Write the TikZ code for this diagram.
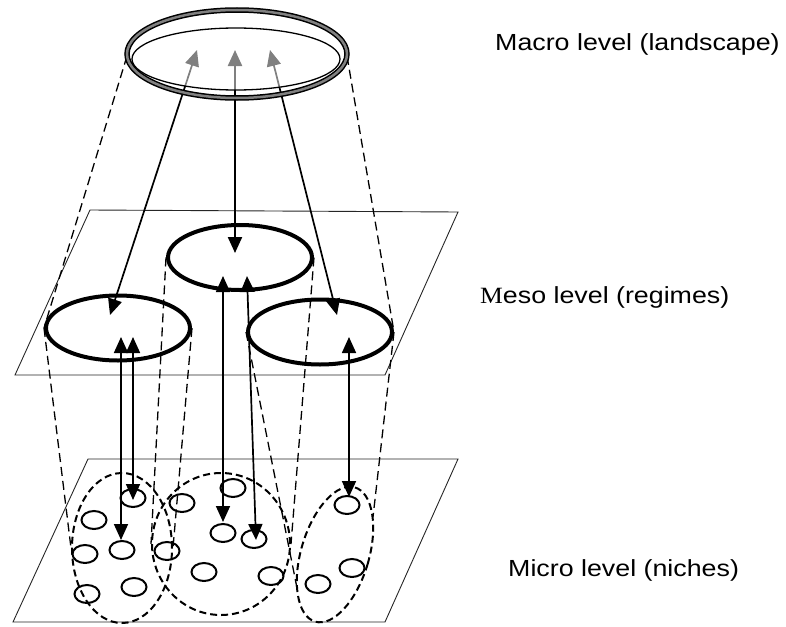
\documentclass[tikz,border=0pt]{standalone}
\usepackage{fontspec}
\newfontfamily\lblfont{Liberation Sans}[FakeStretch=1.15]
\newfontfamily\lblserif{Liberation Serif}[FakeStretch=1.1]
\usetikzlibrary{arrows.meta,shapes.geometric}
\begin{document}
\begin{tikzpicture}[x=1pt,y=-1pt,
 plane/.style={line width=0.9pt, draw=black!85},
 mesoell/.style={ellipse, draw, line width=4pt, minimum width=144pt, minimum height=65pt, inner sep=0pt},
 microell/.style={ellipse, draw, line width=2pt, minimum width=25pt, minimum height=18pt, inner sep=0pt},
 nicheell/.style={ellipse, draw, line width=2pt, dash pattern=on 7pt off 4pt, inner sep=0pt},
 cone/.style={line width=1.3pt, dash pattern=on 9pt off 5pt},
 tipb/.tip={Triangle[length=16pt,width=14pt]},
 link/.style={line width=1.7pt, tipb-tipb},
 lbl/.style={anchor=base west, inner sep=0pt, font=\lblfont\fontsize{23.3pt}{28pt}\selectfont}
]
\useasboundingbox (0,0) rectangle (786,626);
% planes
\draw[plane] (90,210) -- (458,212) -- (385,375) -- (15,375) -- cycle;
\draw[plane] (88,459) -- (458,459) -- (385,622) -- (13,622) -- cycle;
% meso ellipses
\node[mesoell] (mC) at (240,257.5) {};
\node[mesoell] (mL) at (118,328) {};
\node[mesoell] (mR) at (320,332) {};
% micro niche groups
\node[nicheell, minimum width=100pt, minimum height=150pt] (nL) at (122,548) {};
\node[nicheell, minimum width=138pt, minimum height=142pt] (nM) at (221,544) {};
\node[nicheell, minimum width=68pt, minimum height=140pt, rotate=-16.5] (nR) at (335,554.5) {};
\coordinate (nRl) at (297,588);
\coordinate (nRr) at (373,517);
% small niches
\node[microell] (s1) at (133,498) {};
\node[microell] (s2) at (94,520) {};
\node[microell] (s3) at (85,554) {};
\node[microell] (s4) at (122,550) {};
\node[microell] (s5) at (87,594) {};
\node[microell] (s6) at (134,587) {};
\node[microell] (s7) at (182,503) {};
\node[microell] (s8) at (233,488) {};
\node[microell] (s9) at (167,551) {};
\node[microell] (s10) at (223,533) {};
\node[microell] (s11) at (254,539) {};
\node[microell] (s12) at (204,572) {};
\node[microell] (s13) at (271,576) {};
\node[microell] (s14) at (347,505) {};
\node[microell] (s15) at (352,568) {};
\node[microell] (s16) at (318,584) {};
% macro
\coordinate (mcW) at (127,56);
\coordinate (mcE) at (347,56);
% dashed cones
\draw[cone] (mcW) -- (mL.west);
\draw[cone] (mcE) -- (mR.east);
\draw[cone] (mL.west) -- (nL.west);
\draw[cone] (mL.east) -- (nL.east);
\draw[cone] (mC.west) -- (nM.west);
\draw[cone] (mC.east) -- (nM.east);
\draw[cone] (mR.west) -- (nRl);
\draw[cone] (mR.east) -- (nRr);
% arrow end points
\coordinate (g1) at (197,50);
\coordinate (g2) at (235,50);
\coordinate (g3) at (270,50);
\coordinate (r1) at (110,315);
\coordinate (r2) at (235,253);
\coordinate (r3) at (337,315);
\coordinate (u1) at (121,337);
\coordinate (d1) at (121,540);
\coordinate (u2) at (133,337);
\coordinate (d2) at (133,500);
\coordinate (u3) at (223,276);
\coordinate (d3) at (223,522);
\coordinate (u4) at (247,276);
\coordinate (d4) at (256,540);
\coordinate (u5) at (349,337);
\coordinate (d5) at (349,497);
\draw[link] (g1) -- (r1);
\draw[link, line width=2.2pt] (g2) -- (r2);
\draw[link] (g3) -- (r3);
\draw[link] (u1) -- (d1);
\draw[link] (u2) -- (d2);
\draw[link] (u3) -- (d3);
\draw[link] (u4) -- (d4);
\draw[link] (u5) -- (d5);
% macro disc on top
\node[ellipse, draw, line width=5.5pt, minimum width=220pt, minimum height=88pt, inner sep=0pt] (rim) at (237,54) {};
\node[ellipse, draw=gray, line width=2.5pt, minimum width=220pt, minimum height=88pt, inner sep=0pt] (rim2) at (237,54) {};
\node[ellipse, draw, line width=1.3pt, fill=white, fill opacity=0.5, minimum width=208pt, minimum height=62pt, inner sep=0pt] (macro) at (236,59) {};
% labels
\node[lbl] (tMacro) at (495,51) {Macro level (landscape)};
\node[lbl] (tMeso) at (480,303) {{\lblserif M}eso level (regimes)};
\node[lbl] (tMicro) at (508,576) {Micro level (niches)};
\end{tikzpicture}
\end{document}
